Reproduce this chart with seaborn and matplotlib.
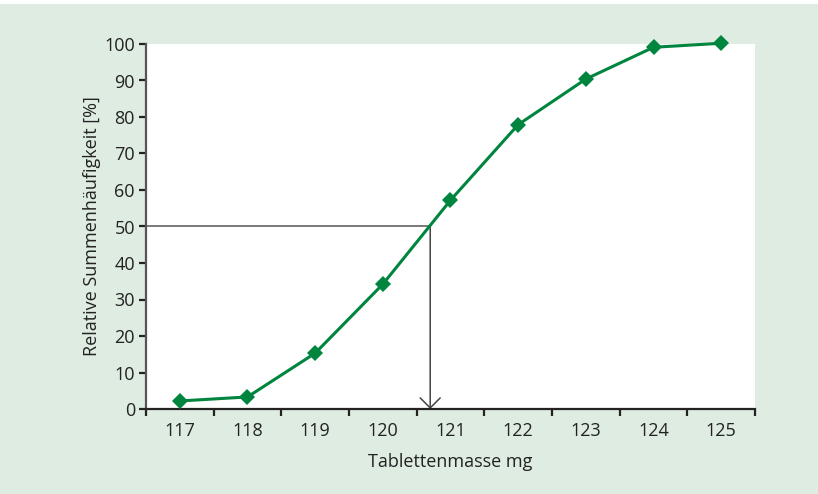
import matplotlib
matplotlib.use("Agg")
import matplotlib.pyplot as plt
import seaborn as sns
import pandas as pd
from matplotlib.patches import Rectangle

masses = [117, 118, 119, 120, 121, 122, 123, 124, 125]
cum_pct = [2.2, 3.3, 15.3, 34.2, 57.2, 77.9, 90.4, 99.1, 100.2]
median_x = 120.7
median_y = 50
x_labels = ["117", "118", "119", "120", "121", "122", "123", "124", "125"]

df = pd.DataFrame({"mass": masses, "pct": cum_pct})

sns.set_theme(style="ticks")
plt.rcParams["font.family"] = ["Open Sans", "DejaVu Sans"]

bg = "#dfece2"
green = "#00853f"
fig = plt.figure(figsize=(8.18, 4.94), dpi=100, facecolor=bg)
fig.patches.append(Rectangle((0, 1 - 4 / 494), 1, 4 / 494, transform=fig.transFigure,
                             facecolor="white", edgecolor="none", zorder=0))
ax = fig.add_axes([146 / 818, 1 - 409 / 494, (755 - 146) / 818, (409 - 44) / 494])
ax.set_facecolor("white")

ax.plot([116.5, median_x], [median_y, median_y], color="#555555", lw=1.1, zorder=2)
ax.annotate("", xy=(median_x, 0), xytext=(median_x, median_y),
            arrowprops=dict(arrowstyle="->,head_length=0.36,head_width=0.36",
                            color="#444444", lw=1.1,
                            mutation_scale=20, shrinkA=0, shrinkB=0), zorder=2)

sns.lineplot(data=df, x="mass", y="pct", ax=ax, color=green, lw=2.2,
             marker="D", markersize=8, markeredgewidth=0, zorder=3, clip_on=False)

ax.set_xlim(116.5, 125.5)
ax.set_ylim(0, 100)
ax.set_xticks([116.5 + i for i in range(10)])
ax.set_xticklabels([])
ax.set_xticks(masses, minor=True)
ax.set_xticklabels(x_labels, minor=True)
ax.tick_params(axis="x", which="major", length=5, width=1.6, color="#222222", direction="out")
ax.tick_params(axis="x", which="minor", length=0, pad=9, labelsize=13, labelcolor="#222222")
ax.set_yticks(range(0, 101, 10))
ax.tick_params(axis="y", length=5, width=1.6, color="#222222", labelsize=13,
               labelcolor="#222222", pad=3)

for s in ["top", "right"]:
    ax.spines[s].set_visible(False)
ax.spines["left"].set_color("#555555")
ax.spines["left"].set_linewidth(1.6)
ax.spines["bottom"].set_color("#222222")
ax.spines["bottom"].set_linewidth(1.6)

ax.set_xlabel("Tablettenmasse mg", fontsize=13, color="#222222", labelpad=10)
ax.set_ylabel("Relative Summenhäufigkeit [%]", fontsize=13, color="#222222", labelpad=2)

fig.savefig("out.png", dpi=100, facecolor=bg)
